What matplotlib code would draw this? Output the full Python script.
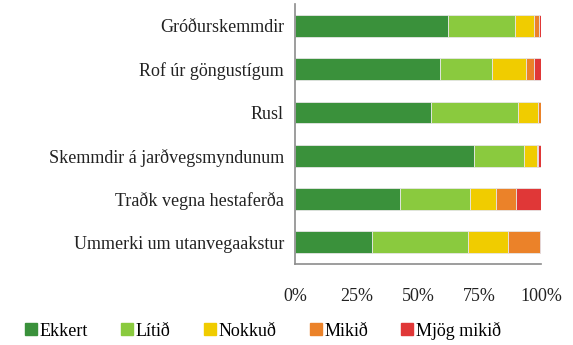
import numpy as np
import matplotlib.pyplot as plt
from matplotlib.lines import Line2D

categories = ['Gróðurskemmdir', 'Rof úr göngustígum', 'Rusl',
              'Skemmdir á jarðvegsmyndunum', 'Traðk vegna hestaferða',
              'Ummerki um utanvegaakstur']
levels = ['Ekkert', 'Lítið', 'Nokkuð', 'Mikið', 'Mjög mikið']

# hlutfall (%) hvers flokks
ekkert = [62.2, 58.9, 55.3, 72.7, 42.6, 31.2]
litid = [27.3, 21.3, 35.4, 20.4, 28.5, 39.2]
nokkud = [7.6, 13.6, 8.0, 5.2, 10.6, 16.3]
mikid = [2.3, 3.4, 1.2, 0.5, 8.1, 12.9]
mjog_mikid = [0.6, 2.8, 0.1, 1.2, 10.2, 0.4]

series = [ekkert, litid, nokkud, mikid, mjog_mikid]
colors = ['#3a913b', '#8aca3e', '#f0cc00', '#eb8229', '#e03737']

fam = ['Liberation Serif', 'DejaVu Serif']
plt.rcParams['font.family'] = fam

fig = plt.figure(figsize=(5.73, 3.45), dpi=100)
ax = fig.add_axes([0.515, 0.235, 0.429, 0.753])

y = np.arange(len(categories))
left = np.zeros(len(categories))
for vals, col, lab in zip(series, colors, levels):
    ax.barh(y, vals, left=left, height=0.5, color=col, label=lab,
            edgecolor='#e6e6e6', linewidth=0.6)
    left += np.array(vals)

ax.set_ylim(len(categories) - 0.5, -0.5)
ax.set_xlim(0, 100)
ax.set_yticks(y)
ax.set_yticklabels(categories, fontsize=13, family=fam, color='#222222')
ax.set_xticks([0, 25, 50, 75, 100])
ax.set_xticklabels(['0%', '25%', '50%', '75%', '100%'], fontsize=13,
                   family=fam, color='#222222')
ax.tick_params(length=0, pad=8)
ax.tick_params(axis='x', pad=17)

for s in ['top', 'right']:
    ax.spines[s].set_visible(False)
for s in ['left', 'bottom']:
    ax.spines[s].set_color('#8c8c8c')
    ax.spines[s].set_linewidth(1.2)

handles = [Line2D([], [], marker='s', linestyle='none', markersize=8,
                  markerfacecolor=c, markeredgecolor=c) for c in colors]
fig.legend(handles, levels, loc='center', bbox_to_anchor=(0.458, 0.042),
           ncol=5, frameon=False, prop={'family': fam, 'size': 13},
           handletextpad=0.1, columnspacing=1.75, handlelength=0.8)

fig.savefig('out.png', dpi=100)
